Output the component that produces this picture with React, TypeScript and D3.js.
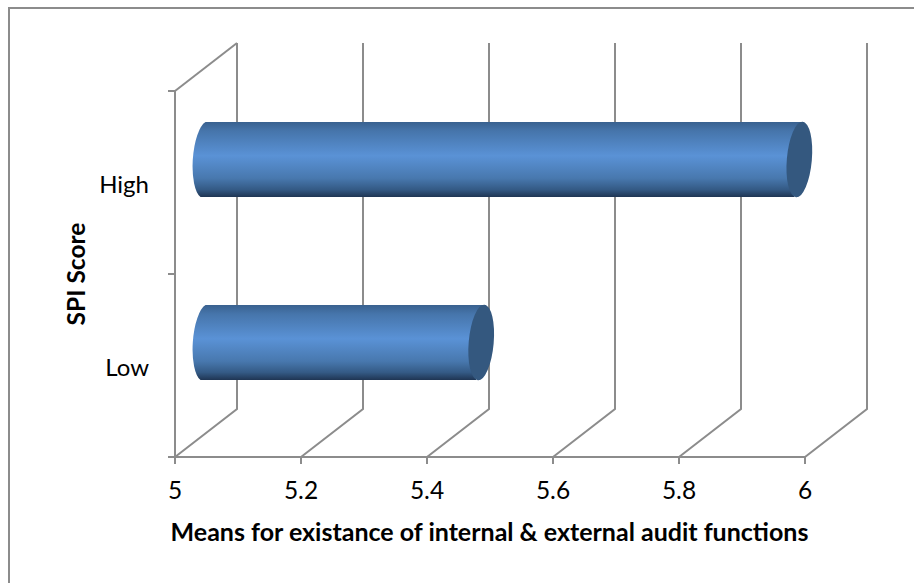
import React from "react";
import * as d3 from "d3";

const categories = ["Low", "High"];
const means = [5.44, 5.945];
const xTicks = [5, 5.2, 5.4, 5.6, 5.8, 6];
const xTitle = "Means for existance of internal & external audit functions";
const yTitle = "SPI Score";

const W = 914, H = 583;
const GRID = "#8c8c8c";
const DX = 62, DY = -48;

export default function App() {
  const x = d3.scaleLinear().domain([5, 6]).range([175, 805]);
  const y = d3.scaleBand<string>().domain(categories).range([457, 91]);
  const RX = 12, RY = 37.5, TILT = 5;
  const bars = categories.map((c, i) => {
    const cy = y(c)! + y.bandwidth() / 2 + DY / 2 + 1;
    const x0 = x(5) + DX / 2 - 4;
    const x1 = x(means[i]) + DX / 2 - 2;
    return { c, cy, x0, x1 };
  });
  return (
    <svg width={W} height={H} viewBox={`0 0 ${W} ${H}`} style={{ position: "absolute", left: 0, top: 0, fontFamily: "Lato, Carlito, sans-serif" }}>
      <defs>
        <linearGradient id="cyl" x1="0" y1="0" x2="0" y2="1">
          <stop offset="0" stopColor="#39618f" />
          <stop offset="0.12" stopColor="#4675ab" />
          <stop offset="0.45" stopColor="#5a92d6" />
          <stop offset="0.75" stopColor="#4878ae" />
          <stop offset="0.9" stopColor="#345a85" />
          <stop offset="1" stopColor="#1f3553" />
        </linearGradient>
      </defs>
      <rect x={9} y={8} width={910} height={590} fill="#fff" stroke="#8c8c8c" strokeWidth={2} />
      {xTicks.map((t) => (
        <g key={t} fill="none" stroke={GRID} strokeWidth={2}>
          <path d={`M${x(t)},${y.range()[0]}L${x(t) + DX},${y.range()[0] + DY}L${x(t) + DX},${y.range()[1] + DY}`} />
          <line x1={x(t)} x2={x(t)} y1={457} y2={464} />
        </g>
      ))}
      <g fill="none" stroke={GRID} strokeWidth={2}>
        <path d={`M${x(5)},91L${x(5) + DX},${91 + DY}`} />
        <line x1={175} x2={175} y1={91} y2={457} />
        <line x1={168} x2={805} y1={457} y2={457} />
        <line x1={168} x2={175} y1={91} y2={91} />
        <line x1={168} x2={175} y1={274} y2={274} />
      </g>
      {bars.map((b) => (
        <g key={b.c}>
          <path
            d={`M${b.x0 + TILT / 2 + 1},${b.cy - RY} L${b.x1 + TILT},${b.cy - RY} L${b.x1 - TILT},${b.cy + RY} L${b.x0 - TILT / 2 + 1},${b.cy + RY} A${RX + 1},${RY + 1} 4 0 1 ${b.x0 + TILT / 2 + 1},${b.cy - RY} Z`}
            fill="url(#cyl)"
          />
          <ellipse cx={b.x1} cy={b.cy} rx={RX + 0.5} ry={RY + 0.5} transform={`rotate(${5} ${b.x1} ${b.cy})`} fill="#34587f" />
        </g>
      ))}
      {xTicks.map((t) => (
        <text key={t} x={x(t)} y={499} textAnchor="middle" fontSize={24.5} fill="#000">{t}</text>
      ))}
      {categories.map((c) => (
        <text key={c} x={149} y={y(c)! + y.bandwidth() / 2 + 10.5} textAnchor="end" fontSize={24} fill="#000">{c}</text>
      ))}
      <text x={489.5} y={541} textAnchor="middle" fontSize={25} fontWeight="bold" fill="#000">{xTitle}</text>
      <text transform="translate(85,274) rotate(-90)" textAnchor="middle" fontSize={24.5} fontWeight="bold" fill="#000">{yTitle}</text>
    </svg>
  );
}
